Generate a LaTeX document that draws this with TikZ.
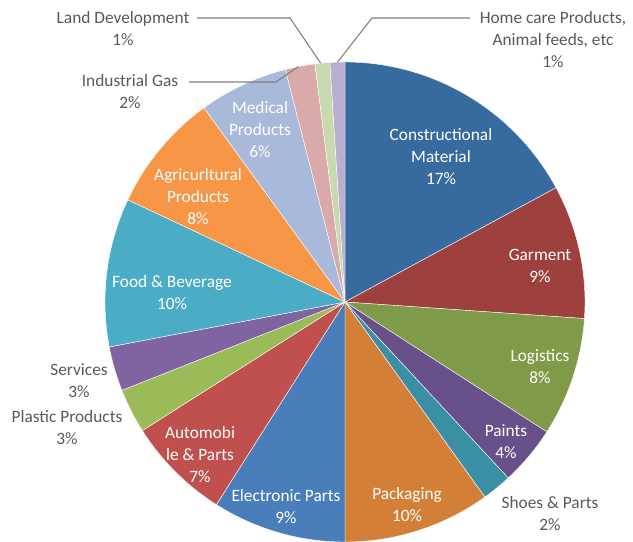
\documentclass[tikz,border=0pt]{standalone}
\usepackage{fontspec}
\setmainfont{Carlito}
\usepackage{xcolor}
\definecolor{cmatblue}{HTML}{376A9E}
\definecolor{garmred}{HTML}{9E413E}
\definecolor{logigreen}{HTML}{7F9A48}
\definecolor{paintpurple}{HTML}{68518A}
\definecolor{shoeteal}{HTML}{3A8FA4}
\definecolor{packorange}{HTML}{D47F38}
\definecolor{elecblue}{HTML}{4A7EBB}
\definecolor{autored}{HTML}{C0504D}
\definecolor{plastgreen}{HTML}{9BBB59}
\definecolor{servpurple}{HTML}{8064A2}
\definecolor{foodcyan}{HTML}{4BACC6}
\definecolor{agriorange}{HTML}{F79646}
\definecolor{medblue}{HTML}{A9B9D9}
\definecolor{gaspink}{HTML}{D9AAA9}
\definecolor{landgreen}{HTML}{C9D9AE}
\definecolor{homelilac}{HTML}{B9AFD0}
\definecolor{labelgray}{HTML}{595959}
\definecolor{leadgray}{HTML}{7F7F7F}
\usepackage{tikz}
\usetikzlibrary{positioning}

\tikzset{
  inlabel/.style={text=white, align=center, font=\fontsize{13}{16.5}\selectfont},
  outlabel/.style={text=labelgray, align=center, font=\fontsize{13}{16.5}\selectfont},
  leader/.style={draw=leadgray, line width=0.8pt}
}

\begin{document}
\begin{tikzpicture}[x=0.75pt, y=0.75pt]
    \useasboundingbox (0,0) rectangle (633,542);
    \begin{scope}[shift={(345,240)}]
        \foreach \a/\b/\c in {0/17.1/cmatblue, 17.1/26.1/garmred, 26.1/34.1/logigreen,
                34.1/38.1/paintpurple, 38.1/40.1/shoeteal, 40.1/50/packorange,
                50/59/elecblue, 59/66/autored, 66/69/plastgreen, 69/72/servpurple,
                72/82/foodcyan, 82/90/agriorange, 90/96/medblue, 96/98/gaspink,
                98/99/landgreen, 99/100/homelilac}
            \filldraw[fill=\c, draw=white, line width=0.3pt] (0,0) -- ({90-3.6*\a}:240)
                arc[start angle={90-3.6*\a}, end angle={90-3.6*\b}, radius=240] -- cycle;
        \coordinate (gas-p) at (101.2:240);
        \coordinate (land-p) at (95.8:240);
        \coordinate (home-p) at (91.8:240);
    \end{scope}

    % labels inside the slices
    \node[inlabel] (cmat) at (441,385) {Constructional\\Material\\17\%};
    \node[inlabel] (garm) at (540,276) {Garment\\9\%};
    \node[inlabel] (logi) at (540,175) {Logistics\\8\%};
    \node[inlabel] (paint) at (506,100) {Paints\\4\%};
    \node[inlabel] (pack) at (407,37) {Packaging\\10\%};
    \node[inlabel] (elec) at (286,35) {Electronic Parts\\9\%};
    \node[inlabel] (auto) at (200,87) {Automobi\\le \& Parts\\7\%};
    \node[inlabel] (food) at (172,249) {Food \& Beverage\\10\%};
    \node[inlabel] (agri) at (198,345) {Agricurltural\\Products\\8\%};
    \node[inlabel] (med) at (260,412) {Medical\\Products\\6\%};

    % labels outside
    \node[outlabel] (shoe) at (550,28) {Shoes \& Parts\\2\%};
    \node[outlabel] (plast) at (67,114) {Plastic Products\\3\%};
    \node[outlabel] (serv) at (79,161) {Services\\3\%};
    \node[outlabel] (gas) at (130,450) {Industrial Gas\\2\%};
    \node[outlabel] (land) at (123,513) {Land Development\\1\%};
    \node[outlabel] (home) at (553,502) {Home care Products,\\Animal feeds, etc\\1\%};

    \coordinate (gas-a) at (189,460);
    \coordinate (gas-b) at (276,460);
    \coordinate (land-a) at (197,524);
    \coordinate (land-b) at (290,524);
    \coordinate (home-a) at (470,524);
    \coordinate (home-b) at (372,524);
    \draw[leader] (gas-a) -- (gas-b) -- (gas-p);
    \draw[leader] (land-a) -- (land-b) -- (land-p);
    \draw[leader] (home-a) -- (home-b) -- (home-p);
\end{tikzpicture}
\end{document}
